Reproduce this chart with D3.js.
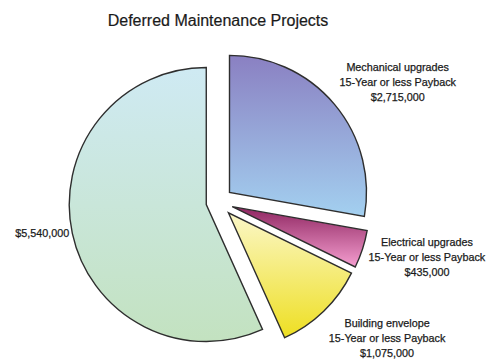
<!DOCTYPE html>
<html>
<head>
<meta charset="utf-8">
<script src="https://cdn.jsdelivr.net/npm/d3@7/dist/d3.min.js"></script>
<style>
  html, body { margin: 0; padding: 0; background: #fff; }
  svg { display: block; }
  text { font-family: "Liberation Sans", Arial, sans-serif; fill: #1a1a1a; }
</style>
</head>
<body>
<svg id="chart" width="487" height="360"></svg>
<script>
// ---- data ----
const categories = ["Mechanical upgrades", "Electrical upgrades", "Building envelope", ""];
const subtitles = ["15-Year or less Payback", "15-Year or less Payback", "15-Year or less Payback", ""];
const values = [2715000, 435000, 1075000, 5540000];
const title = "Deferred Maintenance Projects";

// ---- styling / layout ----
const gradTop = ["#8a80c2", "#8e2560", "#fbf7c8", "#cfeaf3"];
const gradBot = ["#a3d0f0", "#f59ed0", "#eedf22", "#c3e2c0"];
const explode = [15, 15, 15, 12];
const labelAngle = [56.3, 104.7, 128.8, 258];   // degrees, clockwise from 12 o'clock
const labelRadius = [216, 216, 217, 152];

const W = 487, H = 360;
const cx = 218, cy = 202, R = 137;
const svg = d3.select("#chart");
const defs = svg.append("defs");

values.forEach((v, i) => {
  const g = defs.append("linearGradient").attr("id", "g" + i)
    .attr("x1", 0).attr("y1", 0).attr("x2", 0).attr("y2", 1);
  g.append("stop").attr("offset", "0%").attr("stop-color", gradTop[i]);
  g.append("stop").attr("offset", "100%").attr("stop-color", gradBot[i]);
});

const fmt = d3.format("$,.0f");
const pie = d3.pie().sort(null).value(d => d)(values);
const arc = d3.arc().innerRadius(0).outerRadius(R);

const root = svg.append("g").attr("transform", `translate(${cx},${cy})`);

root.selectAll("path.slice").data(pie).join("path")
  .attr("class", "slice")
  .attr("transform", (d, i) => {
    const a = (d.startAngle + d.endAngle) / 2;
    return `translate(${explode[i] * Math.sin(a)},${-explode[i] * Math.cos(a)})`;
  })
  .attr("d", arc)
  .attr("fill", (d, i) => `url(#g${i})`)
  .attr("stroke", "#2e2e2e")
  .attr("stroke-width", 1.4)
  .attr("stroke-linejoin", "miter");

// labels
pie.forEach((d, i) => {
  const a = labelAngle[i] * Math.PI / 180;
  const x = labelRadius[i] * Math.sin(a);
  const y = -labelRadius[i] * Math.cos(a);
  const lines = categories[i] ? [categories[i], subtitles[i], fmt(values[i])] : [fmt(values[i])];
  const t = root.append("text")
    .attr("text-anchor", categories[i] ? "middle" : "end")
    .attr("font-size", 10.8)
    .attr("stroke", "#1a1a1a")
    .attr("stroke-width", 0.25);
  const lh = 15;
  const y0 = y - (lines.length - 1) * lh / 2;
  lines.forEach((s, k) => {
    t.append("tspan").attr("x", x).attr("y", y0 + k * lh).attr("dy", "0.35em").text(s);
  });
});

svg.append("text")
  .attr("x", 218).attr("y", 26)
  .attr("text-anchor", "middle")
  .attr("font-size", 16)
  .attr("stroke", "#1a1a1a")
  .attr("stroke-width", 0.2)
  .text(title);
</script>
</body>
</html>
